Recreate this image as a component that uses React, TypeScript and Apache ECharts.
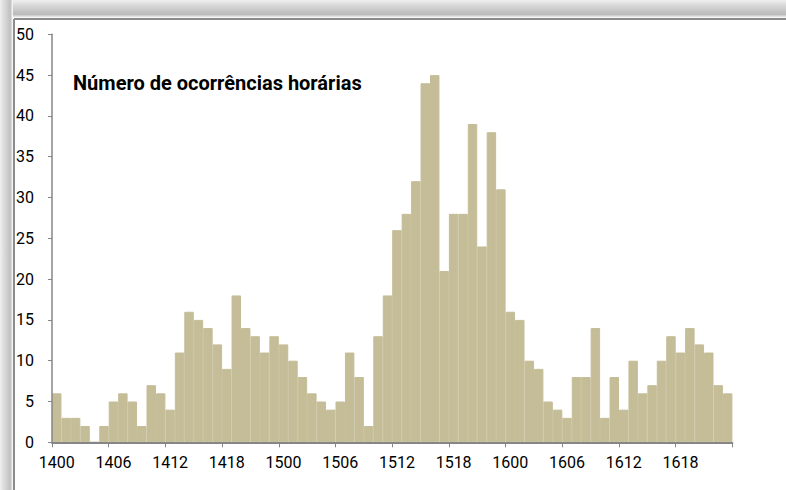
import React, { useEffect, useRef } from "react";
import * as echarts from "echarts";

const days = ["14", "15", "16"];
const hours = Array.from({ length: 24 }, (_, h) => String(h).padStart(2, "0"));
const categories: string[] = days.flatMap((d) => hours.map((h) => d + h));

const day14 = [6, 3, 3, 2, 0, 2, 5, 6, 5, 2, 7, 6, 4, 11, 16, 15, 14, 12, 9, 18, 14, 13, 11, 13];
const day15 = [12, 10, 8, 6, 5, 4, 5, 11, 8, 2, 13, 18, 26, 28, 32, 44, 45, 21, 28, 28, 39, 24, 38, 31];
const day16 = [16, 15, 10, 9, 5, 4, 3, 8, 8, 14, 3, 8, 4, 10, 6, 7, 10, 13, 11, 14, 12, 11, 7, 6];
const counts = [...day14, ...day15, ...day16];

const title = "Número de ocorrências horárias";
const FONT = "Roboto, 'Open Sans', sans-serif";

export default function App() {
  const ref = useRef<HTMLDivElement>(null);
  useEffect(() => {
    if (!ref.current) return;
    const chart = echarts.init(ref.current, null, { renderer: "svg" });
    chart.setOption({
      animation: false,
      backgroundColor: "#ffffff",
      grid: { left: 52, top: 34.3, right: 53.6, bottom: 47.7, containLabel: false },
      xAxis: {
        type: "category",
        data: categories,
        boundaryGap: true,
        z: 5,
        axisLine: { show: true, lineStyle: { color: "#868686", width: 2 } },
        axisTick: { show: true, interval: 5, length: 5, lineStyle: { color: "#868686", width: 1 } },
        axisLabel: { interval: 5, margin: 12, color: "#000", fontSize: 16, fontFamily: FONT },
      },
      yAxis: {
        type: "value",
        min: 0,
        max: 50,
        interval: 5,
        z: 5,
        axisLine: { show: true, lineStyle: { color: "#868686", width: 1.5 } },
        axisTick: { show: true, length: 4, lineStyle: { color: "#868686" } },
        splitLine: { show: false },
        axisLabel: { margin: 18, color: "#000", fontSize: 16, fontFamily: FONT },
      },
      series: [
        {
          type: "bar",
          data: counts,
          barCategoryGap: "0%",
          itemStyle: { color: "#C4BD97", borderColor: "#C4BD97", borderWidth: 1 },
        },
      ],
      graphic: [
        {
          type: "rect",
          shape: { x: 0, y: 0, width: 786, height: 18 },
          style: {
            fill: new echarts.graphic.LinearGradient(0, 0, 0, 1, [
              { offset: 0, color: "#f0f0f0" },
              { offset: 0.3, color: "#d8d8d8" },
              { offset: 0.8, color: "#bababa" },
              { offset: 1, color: "#ffffff" },
            ]),
          },
          silent: true,
        },
        {
          type: "rect",
          shape: { x: 0, y: 0, width: 13, height: 490 },
          style: {
            fill: new echarts.graphic.LinearGradient(0, 0, 1, 0, [
              { offset: 0, color: "#f0f0f0" },
              { offset: 0.3, color: "#dcdcdc" },
              { offset: 0.8, color: "#c0c0c0" },
              { offset: 1, color: "#ffffff" },
            ]),
          },
          silent: true,
        },
        {
          type: "line",
          shape: { x1: 14, y1: 19, x2: 786, y2: 19 },
          style: { stroke: "#8c8c8c", lineWidth: 2 },
          silent: true,
        },
        {
          type: "line",
          shape: { x1: 14, y1: 19, x2: 14, y2: 490 },
          style: { stroke: "#8c8c8c", lineWidth: 2 },
          silent: true,
        },
        {
          type: "text",
          left: 73,
          top: 73,
          style: {
            text: title,
            fill: "#000",
            font: "bold 20px " + FONT,
          },
        },
      ],
    });
    return () => chart.dispose();
  }, []);
  return (
    <div
      ref={ref}
      style={{ position: "absolute", left: 0, top: 0, width: 786, height: 490 }}
    />
  );
}
